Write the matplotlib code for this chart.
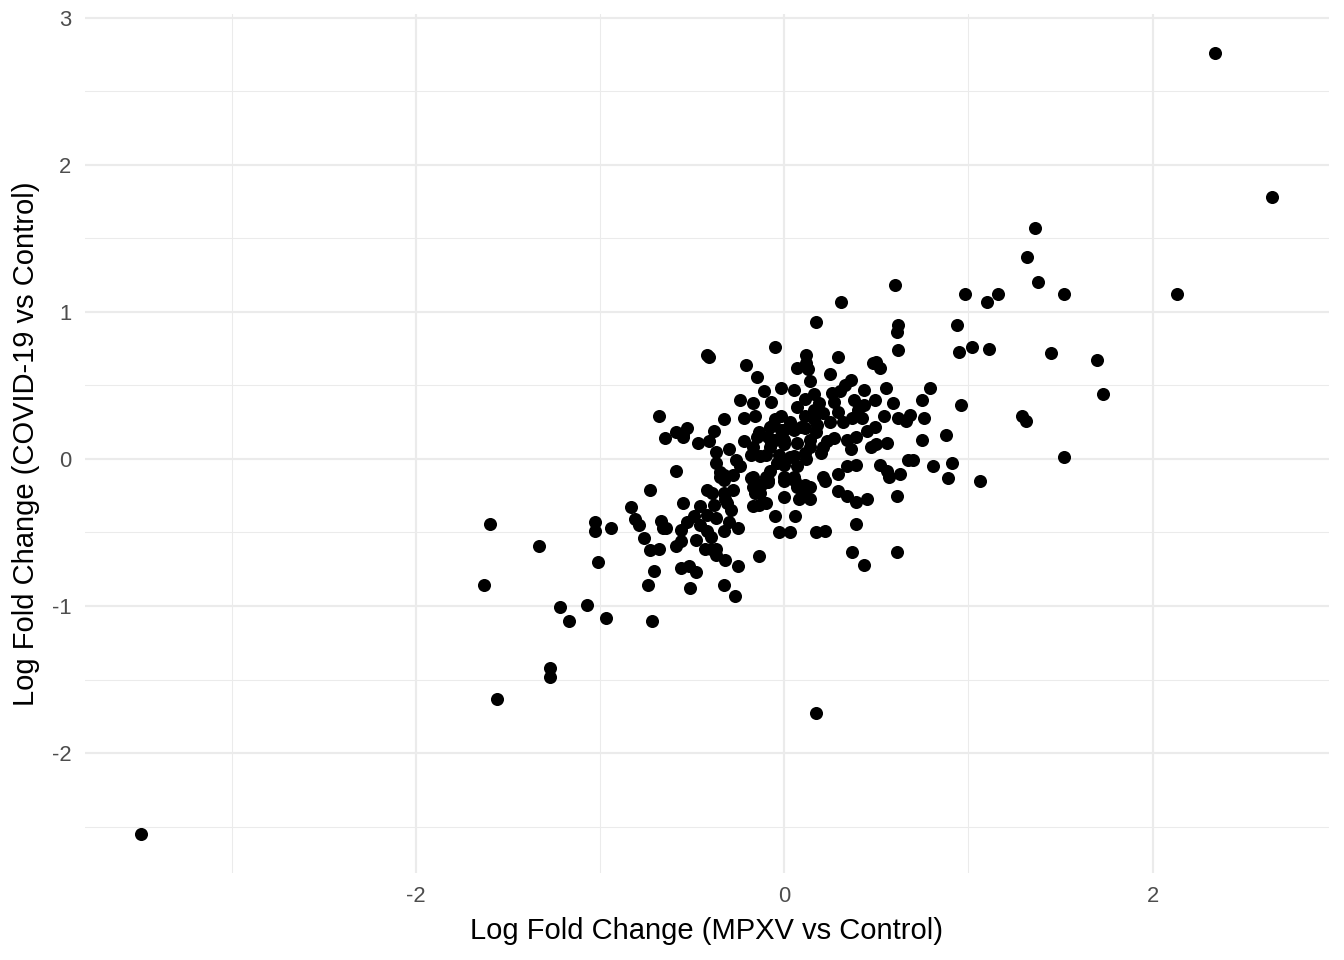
import matplotlib
matplotlib.use("Agg")
import matplotlib.pyplot as plt
from matplotlib.ticker import MultipleLocator

# log fold changes
lfc_mpxv = [
    -3.49, 2.34, 2.65, 2.13, 1.36, 1.32, 1.38, 1.52, 1.16, 1.10,
    0.98, 0.94, 0.95, 1.02, 1.11, 1.45, 1.70, 1.73, 1.29, 1.31,
    1.52, 1.06, 0.96, 0.88, 0.91, 0.89, 0.81, 0.60, 0.31, 0.17,
    0.62, 0.61, 0.62, 0.79, 0.75, 0.76, 0.75, 0.68, 0.66, 0.62,
    0.67, 0.70, 0.63, 0.61, 0.61, 0.43, 0.37, 0.39, 0.17, 0.22,
    0.17, 0.03, -0.03, 0.06, 0.08, 0.00, -0.05, -0.14, -0.25, -0.27,
    -0.32, -0.33, -0.40, -0.37, -0.51, -0.48, -0.52, -0.56, -0.72, -0.71,
    -0.74, -0.73, -0.68, -0.76, -1.01, -0.97, -1.07, -1.17, -1.22, -1.27,
    -1.27, -1.56, -1.63, -1.60, -1.33, -1.03, -1.03, -0.94, -0.83, -0.81,
    -0.79, -0.73, -0.68, -0.65, -0.59, -0.59, -0.55, -0.53, -0.42, -0.41,
    -0.21, -0.05, 0.13, 0.12, 0.29, -0.15,
    # upper-left part of the cloud
    -0.11, -0.24, -0.17, -0.07, -0.55, -0.33, -0.38, -0.22, -0.47, -0.41,
    -0.37, -0.30, -0.22, -0.15, -0.05, -0.05, -0.37, -0.33, -0.24, -0.13,
    -0.17, -0.08,
    # lower-left part of the cloud
    -0.55, -0.67, -0.66, -0.64, -0.59, -0.56, -0.56, -0.53, -0.49, -0.46,
    -0.42, -0.39, -0.38, -0.42, -0.46, -0.48, -0.42, -0.40, -0.37, -0.33,
    -0.37, -0.43, -0.32, -0.29, -0.30, -0.25, -0.28, -0.33, -0.35, -0.18,
    -0.17, -0.17, -0.10, -0.12, -0.09,
    # upper-right part of the cloud
    0.12, 0.07, 0.48, 0.52, 0.50, 0.25, 0.14, -0.02, 0.05, 0.36,
    0.33, 0.30, 0.43, 0.55, 0.11, 0.16, 0.26, 0.49, 0.59, 0.07,
    0.19, 0.27, 0.38, 0.43, 0.40, 0.29, 0.21, 0.16, 0.11, 0.03,
    -0.06, 0.54, 0.37, 0.42, 0.32, 0.25, 0.18, 0.11, 0.05, -0.02,
    -0.09, 0.49, 0.45, 0.39, 0.34, 0.27, 0.23, 0.14, 0.07, 0.00,
    -0.08, 0.56, 0.50, 0.47, 0.36, 0.20, 0.11, 0.03, -0.04, 0.52,
    0.56, 0.34, 0.39, 0.29, 0.21, 0.00, 0.05,
    # lower-right part of the cloud
    0.00, 0.07, 0.12, 0.00, 0.06, 0.11, 0.10, 0.14, -0.13, 0.22,
    0.29, 0.34, 0.39, 0.45, 0.57,
    # centre of the cloud
    -0.16, -0.02, -0.14, -0.08, 0.00, 0.09, 0.16, 0.17, -0.17, -0.07,
    0.00, 0.14, 0.21, -0.26, -0.18, -0.10, -0.03, 0.05, -0.35, -0.28,
    -0.10, 0.14, -0.33, -0.16, -0.09, 0.07, -0.31, -0.14,
]

lfc_covid = [
    -2.55, 2.76, 1.78, 1.12, 1.57, 1.37, 1.20, 1.12, 1.12, 1.07,
    1.12, 0.91, 0.73, 0.76, 0.75, 0.72, 0.67, 0.44, 0.29, 0.26,
    0.01, -0.15, 0.37, 0.16, -0.03, -0.13, -0.05, 1.18, 1.07, 0.93,
    0.91, 0.86, 0.74, 0.48, 0.40, 0.28, 0.13, 0.30, 0.26, 0.28,
    -0.01, -0.01, -0.10, -0.25, -0.63, -0.72, -0.63, -0.44, -1.73, -0.49,
    -0.50, -0.50, -0.50, -0.39, -0.27, -0.26, -0.39, -0.66, -0.73, -0.93,
    -0.69, -0.86, -0.61, -0.65, -0.88, -0.77, -0.73, -0.74, -1.10, -0.76,
    -0.86, -0.62, -0.61, -0.54, -0.70, -1.08, -0.99, -1.10, -1.01, -1.42,
    -1.48, -1.63, -0.86, -0.44, -0.59, -0.43, -0.49, -0.47, -0.33, -0.41,
    -0.45, -0.21, 0.29, 0.14, -0.08, 0.18, 0.15, 0.21, 0.71, 0.69,
    0.64, 0.76, 0.61, 0.71, 0.69, 0.56,
    # upper-left part of the cloud
    0.46, 0.40, 0.38, 0.39, 0.16, 0.27, 0.19, 0.28, 0.11, 0.12,
    0.05, 0.07, 0.12, 0.15, 0.27, 0.13, -0.03, -0.11, -0.05, 0.02,
    -0.12, -0.08,
    # lower-left part of the cloud
    -0.30, -0.42, -0.47, -0.47, -0.59, -0.56, -0.48, -0.43, -0.39, -0.32,
    -0.21, -0.23, -0.31, -0.38, -0.45, -0.55, -0.49, -0.53, -0.40, -0.49,
    -0.61, -0.61, -0.27, -0.35, -0.43, -0.47, -0.21, -0.14, -0.09, -0.13,
    -0.19, -0.32, -0.30, -0.17, -0.14,
    # upper-right part of the cloud
    0.65, 0.62, 0.65, 0.62, 0.66, 0.58, 0.53, 0.48, 0.47, 0.54,
    0.50, 0.46, 0.47, 0.48, 0.41, 0.44, 0.45, 0.40, 0.38, 0.35,
    0.38, 0.39, 0.40, 0.37, 0.33, 0.32, 0.31, 0.33, 0.29, 0.25,
    0.23, 0.29, 0.28, 0.28, 0.25, 0.25, 0.23, 0.21, 0.20, 0.20,
    0.15, 0.22, 0.19, 0.15, 0.13, 0.14, 0.12, 0.13, 0.11, 0.10,
    0.08, 0.11, 0.10, 0.08, 0.07, 0.04, 0.04, 0.01, -0.03, -0.04,
    -0.08, -0.05, -0.04, -0.10, -0.12, -0.12, -0.12,
    # lower-right part of the cloud
    -0.04, -0.05, 0.00, -0.15, -0.15, -0.18, -0.23, -0.27, -0.23, -0.15,
    -0.22, -0.25, -0.29, -0.27, -0.12,
    # centre of the cloud
    0.29, 0.29, 0.18, 0.22, 0.20, 0.22, 0.27, 0.18, 0.08, 0.11,
    0.13, 0.08, 0.08, -0.01, 0.03, 0.03, 0.03, 0.02, -0.12, -0.11,
    -0.12, -0.19, -0.23, -0.23, -0.16, -0.19, -0.30, -0.31,
]

plt.rcParams['font.family'] = ['Liberation Sans', 'DejaVu Sans']
plt.rcParams['axes.unicode_minus'] = False

fig = plt.figure(figsize=(14, 10), dpi=96)
ax = fig.add_axes([0.0632, 0.0906, 0.9256, 0.8948])

ax.scatter(lfc_mpxv, lfc_covid, s=96, color='black', linewidths=0, zorder=3)

# ggplot-style padding: 5% of the data range on each side
xmin, xmax = min(lfc_mpxv), max(lfc_mpxv)
ymin, ymax = min(lfc_covid), max(lfc_covid)
xpad = 0.05 * (xmax - xmin)
ypad = 0.05 * (ymax - ymin)
ax.set_xlim(xmin - xpad, xmax + xpad)
ax.set_ylim(ymin - ypad, ymax + ypad)

ax.xaxis.set_major_locator(MultipleLocator(2))
ax.xaxis.set_minor_locator(MultipleLocator(1))
ax.yaxis.set_major_locator(MultipleLocator(1))
ax.yaxis.set_minor_locator(MultipleLocator(0.5))

ax.grid(which='major', color='#EBEBEB', linewidth=1.6, zorder=0)
ax.grid(which='minor', color='#EBEBEB', linewidth=0.8, zorder=0)
ax.set_axisbelow(True)
for side in ax.spines.values():
    side.set_visible(False)

ax.tick_params(which='both', length=0)
ax.tick_params(axis='x', labelsize=16.5, labelcolor='#4D4D4D', pad=10)
ax.tick_params(axis='y', labelsize=16.5, labelcolor='#4D4D4D', pad=10)
ax.set_xticklabels([], minor=True)
ax.set_yticklabels([], minor=True)

ax.set_xlabel('Log Fold Change (MPXV vs Control)', fontsize=21.8, labelpad=7)
ax.set_ylabel('Log Fold Change (COVID-19 vs Control)', fontsize=21.8, labelpad=9)

fig.savefig('out.png', dpi=96, facecolor='white')
